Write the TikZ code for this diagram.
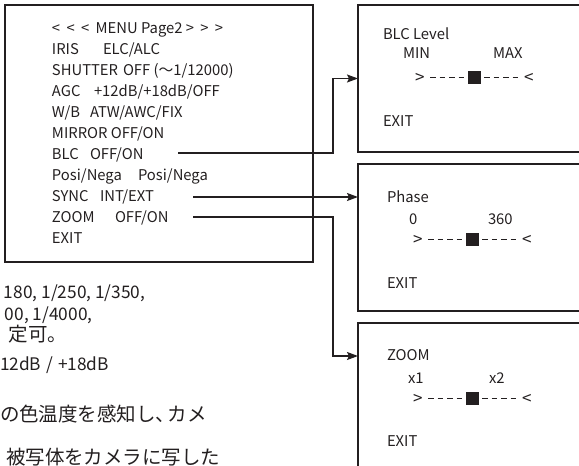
\documentclass[tikz,border=0pt]{standalone}
\usepackage{fontspec}
\setmainfont{Noto Sans CJK JP}
\usetikzlibrary{arrows.meta,calc}
\definecolor{ink}{HTML}{231F20}
\newcommand\sliderrow[3]{%
  \node[txt,font=\fontsize{17}{17}\selectfont,anchor=mid west] (#1l) at (#2,#3+4) {>};
  \node[knob,anchor=west] (#1k) at (#2+53,#3) {};
  \node[txt,font=\fontsize{17}{17}\selectfont,anchor=mid west] (#1r) at (#2+109,#3+4) {<};
  \draw[ticks] (#2+15,#3) -- ++(34,0);
  \draw[ticks] ($(#1k.east)+(3,0)$) -- ++(34,0);
}
\begin{document}
\begin{tikzpicture}[x=1pt,y=-1pt,
  txt/.style={inner sep=0pt,outer sep=0pt,anchor=base west,font=\fontsize{14.8}{14.8}\selectfont,text=ink},
  big/.style={inner sep=0pt,outer sep=0pt,anchor=base west,font=\fontsize{17.3}{17.3}\selectfont,text=ink},
  bigjp/.style={inner sep=0pt,outer sep=0pt,anchor=base west,font=\fontsize{19.5}{19.5}\selectfont,text=ink},
  frame/.style={draw=ink,line width=1.4pt,inner sep=0pt,outer sep=0pt,anchor=north west},
  conn/.style={draw=ink,line width=1.3pt,-{Stealth[length=11pt,width=8pt,inset=2pt]}},
  ticks/.style={draw=ink,line width=1pt,dash pattern=on 5.5pt off 4pt},
  knob/.style={fill=ink,minimum size=13pt,inner sep=0pt,outer sep=0pt}]
\useasboundingbox (0,0) rectangle (579,466);
\clip (0,0) rectangle (579,466);
% frames
\node[frame,minimum width=308pt,minimum height=257pt] (menu) at (5,5) {};
\node[frame,minimum width=260pt,minimum height=147pt] (b1) at (358,5) {};
\node[frame,minimum width=260pt,minimum height=147pt] (b2) at (358,164) {};
\node[frame,minimum width=260pt,minimum height=147pt] (b3) at (358,323) {};
% menu text
\node[txt] (m0) at (52,33) {<\hspace{3pt} <\hspace{3pt} <\hspace{3pt} MENU Page2 >\hspace{3pt} >\hspace{3pt} >};
\node[txt] (m1a) at (52,54) {IRIS};
\node[txt] (m1b) at (103,54) {ELC/ALC};
\node[txt] (m2a) at (52,75) {SHUTTER};
\node[txt] (m2b) at (123,75) {OFF (～1/12000)};
\node[txt] (m3a) at (52,96) {AGC};
\node[txt] (m3b) at (94,96) {+12dB/+18dB/OFF};
\node[txt] (m4a) at (52,117) {W/B};
\node[txt] (m4b) at (90,117) {ATW/AWC/FIX};
\node[txt] (m5) at (52,138) {MIRROR OFF/ON};
\node[txt] (m6a) at (52,159) {BLC};
\node[txt] (m6b) at (90,159) {OFF/ON};
\node[txt] (m7a) at (52,180) {Posi/Nega};
\node[txt] (m7b) at (138,180) {Posi/Nega};
\node[txt] (m8a) at (52,201) {SYNC};
\node[txt] (m8b) at (100,201) {INT/EXT};
\node[txt] (m9a) at (52,222) {ZOOM};
\node[txt] (m9b) at (115,222) {OFF/ON};
\node[txt] (m10) at (52,243) {EXIT};
% box 1
\node[txt] (t1) at (383,39.3) {BLC Level};
\node[txt] (t1a) at (403,58.3) {MIN};
\node[txt] (t1b) at (493,58.3) {MAX};
\sliderrow{s1}{415}{77}
\node[txt] (t1e) at (383,126.7) {EXIT};
% box 2
\node[txt] (t2) at (387,202.7) {Phase};
\node[txt] (t2a) at (409,224) {0};
\node[txt] (t2b) at (488,224) {360};
\sliderrow{s2}{413}{239}
\node[txt] (t2e) at (387,288) {EXIT};
% box 3
\node[txt] (t3) at (387,360.7) {ZOOM};
\node[txt] (t3a) at (408,383.3) {x1};
\node[txt] (t3b) at (489,383.3) {x2};
\sliderrow{s3}{413}{398}
\node[txt] (t3e) at (387,446.7) {EXIT};
% connectors
\coordinate (bus) at (333,0);
\coordinate (blcS) at (178,153);
\coordinate (syncS) at (193,197);
\coordinate (zoomS) at (193,217);
\coordinate (z3) at ($(b3.north west)+(0,33)$);
\draw[conn] (blcS) -- (blcS -| bus) |- (b1.west);
\draw[conn] (syncS) -- (syncS -| b2.west);
\draw[conn] (zoomS) -- (zoomS -| bus) |- (z3);
% lower left notes
\node[big] (n1) at (4,298) {180, 1/250, 1/350,};
\node[big] (n2) at (5,320) {00, 1/4000,};
\node[bigjp] (n3) at (9,341) {定可。};
\node[big] (n4) at (0,370) {12dB\hspace{5pt}/\hspace{5pt}+18dB};
\node[bigjp] (n5) at (0,421) {の色温度を感知し、\kern-8pt カメ};
\node[bigjp] (n6) at (6,464) {被写体をカメラに写した};
\end{tikzpicture}
\end{document}
